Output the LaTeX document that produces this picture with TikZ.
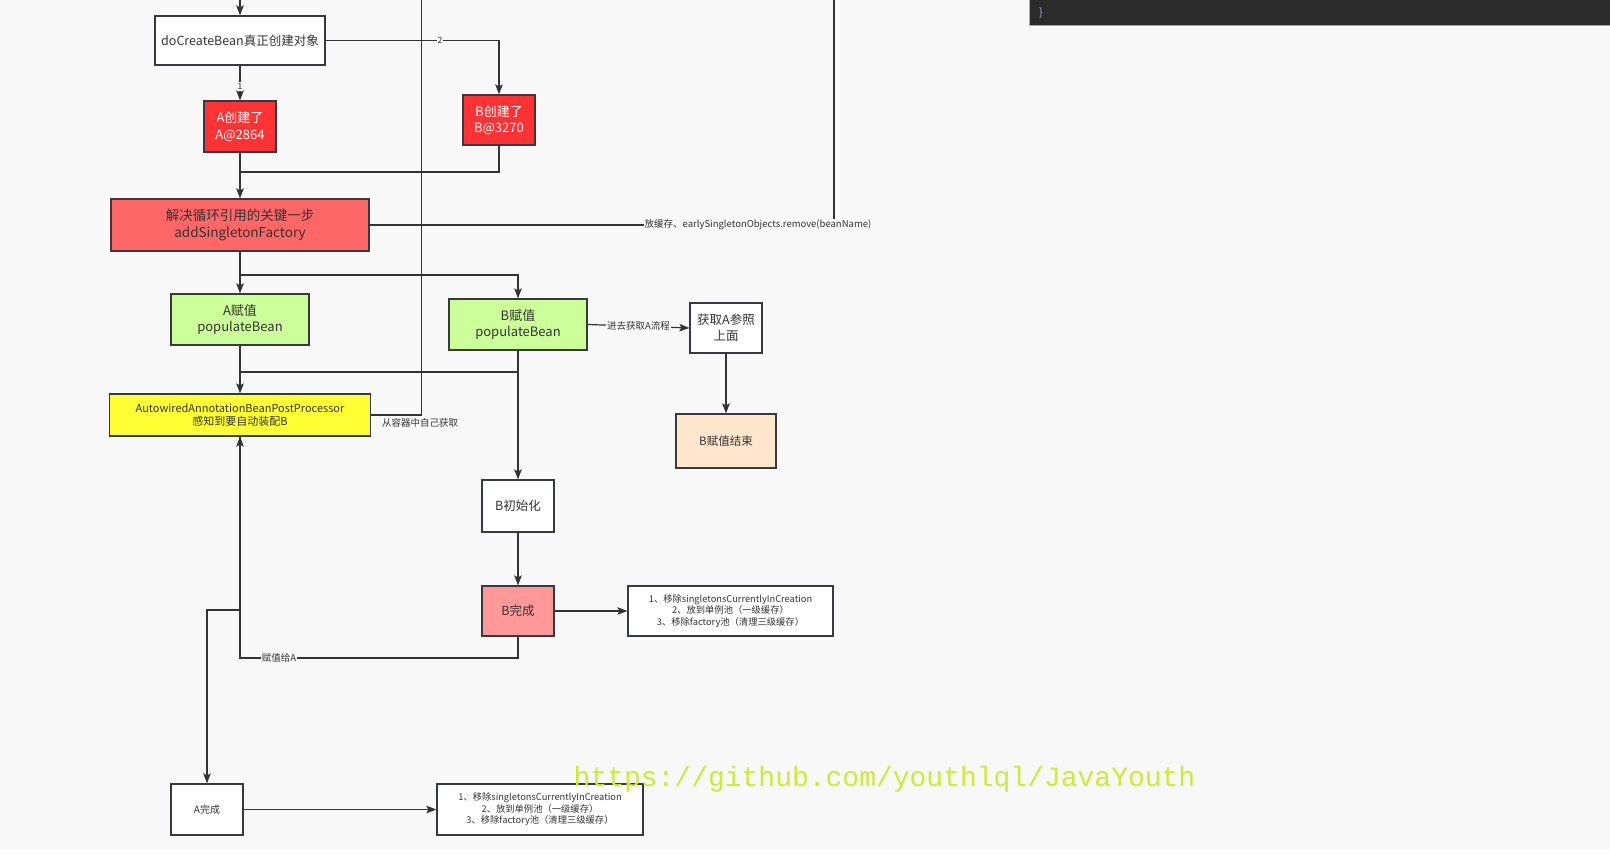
\documentclass[tikz,border=0pt]{standalone}
\usepackage{fontspec}
\setmainfont{Noto Sans CJK SC}
\newfontfamily\monofont{Liberation Mono}
\usetikzlibrary{arrows.meta,positioning,calc}
\definecolor{canvas}{RGB}{248,248,248}
\definecolor{edgegray}{RGB}{54,57,61}
\definecolor{textgray}{RGB}{51,51,51}
\definecolor{hotred}{RGB}{255,51,51}
\definecolor{softred}{RGB}{255,102,102}
\definecolor{pinkred}{RGB}{255,153,153}
\definecolor{limegreen}{RGB}{204,255,153}
\definecolor{brightyellow}{RGB}{255,255,51}
\definecolor{peach}{RGB}{255,230,204}
\definecolor{codebg}{RGB}{43,43,43}
\definecolor{codetext}{RGB}{150,170,195}
\definecolor{markgreen}{RGB}{205,235,55}
\tikzset{
  flowbox/.style={draw=edgegray, fill=#1, line width=1.2pt, align=center,
    text=textgray, inner sep=1pt, font=\fontsize{12.5}{16}\selectfont},
  flowbox/.default=white,
  hotbox/.style={flowbox=hotred, text=white, font=\fontsize{13}{16.5}\selectfont},
  notebox/.style={flowbox=white, font=\fontsize{9.3}{11.6}\selectfont},
  edgelabel/.style={fill=canvas, text=textgray, inner sep=1pt,
    font=\fontsize{9.5}{11}\selectfont},
  flow/.style={line width=1.2pt, draw=textgray},
  arrow/.style={flow, -{Stealth[length=10pt,width=7.5pt,inset=2pt]}}
}

\begin{document}
\begin{tikzpicture}[x=1pt,y=-1pt]
  \useasboundingbox (0,0) rectangle (1610,861);
  \fill[white] (0,0) rectangle (1610,861);
  \fill[canvas] (0,0) rectangle (1610,849);

  % code panel cut off at the top
  \fill[codebg] (1029,-2) rectangle (1612,25);
  \draw[gray!70, line width=0.8pt] (1029,-2) -- (1029,25) -- (1612,25);
  \node[text=codetext, font=\fontsize{11}{12}\selectfont] (codeend) at (1041,13) {\}};

  \node[flowbox, minimum width=170pt, minimum height=49pt] (docreate) at (240,40.5) {doCreateBean真正创建对象};
  \node[hotbox, minimum width=72pt, minimum height=51pt] (acreate) at (240,126.5) {A创建了\\A@2864};
  \node[hotbox, minimum width=72pt, minimum height=50pt] (bcreate) at (499,120) {B创建了\\B@3270};
  \node[flowbox=softred, minimum width=258pt, minimum height=52pt, font=\fontsize{13.5}{16.5}\selectfont] (addfactory) at (240,225) {解决循环引用的关键一步\\addSingletonFactory};
  \node[flowbox=limegreen, minimum width=138pt, minimum height=51pt, font=\fontsize{13}{16.5}\selectfont] (apopulate) at (240,319.5) {A赋值\\populateBean};
  \node[flowbox=limegreen, minimum width=138pt, minimum height=51pt, font=\fontsize{13}{16.5}\selectfont] (bpopulate) at (518,324.5) {B赋值\\populateBean};
  \node[flowbox=brightyellow, minimum width=261pt, minimum height=42pt, font=\fontsize{11}{13}\selectfont] (autowired) at (240,415) {AutowiredAnnotationBeanPostProcessor\\感知到要自动装配B};
  \node[flowbox, minimum width=72pt, minimum height=50pt] (getaref) at (726,328) {获取A参照\\上面};
  \node[flowbox=peach, minimum width=100pt, minimum height=54pt, font=\fontsize{11.5}{14}\selectfont] (bassignend) at (726,441) {B赋值结束};
  \node[flowbox, minimum width=72pt, minimum height=52pt] (binit) at (518,506) {B初始化};
  \node[flowbox=pinkred, minimum width=72pt, minimum height=50pt] (bdone) at (518,611) {B完成};
  \node[notebox, minimum width=205pt, minimum height=50pt] (bnote) at (730.5,611) {1、移除singletonsCurrentlyInCreation\\2、放到单例池（一级缓存）\\3、移除factory池（清理三级缓存）};
  \node[flowbox, minimum width=72pt, minimum height=51pt, font=\fontsize{10}{12}\selectfont] (adone) at (207,809.5) {A完成};
  \node[notebox, minimum width=206pt, minimum height=51pt] (anote) at (540,809.5) {1、移除singletonsCurrentlyInCreation\\2、放到单例池（一级缓存）\\3、移除factory池（清理三级缓存）};

  \coordinate (topin) at (240,-2);
  \coordinate (joinab) at (240,172);
  \coordinate (splitpop) at (240,275);
  \coordinate (joinpop) at (240,372);
  \coordinate (cacheup) at (834,-2);
  \coordinate (selfget) at (421.7,-2);
  \coordinate (aret) at (240,658);
  \coordinate (abranch) at (240,610);

  \draw[arrow] (topin) -- (docreate.north);
  \draw[arrow] (docreate.south) -- node[edgelabel, font=\fontsize{8.5}{10}\selectfont, pos=0.6] {1} (acreate.north);
  \draw[arrow] (docreate.east) -| node[edgelabel, font=\fontsize{8.5}{10}\selectfont, pos=0.33] {2} (bcreate.north);
  \draw[arrow] (acreate.south) -- (addfactory.north);
  \draw[flow] (bcreate.south) |- (joinab);

  \draw[flow] (addfactory.east) -| (cacheup);
  \node[edgelabel] (cachelabel) at (758,225) {放缓存、earlySingletonObjects.remove(beanName)};

  \draw[flow] (autowired.east) -| (selfget);
  \node[edgelabel, fill=none, anchor=north] (selflabel) at (420,417) {从容器中自己获取};

  \draw[arrow] (addfactory.south) -- (apopulate.north);
  \draw[arrow] (splitpop) -| (bpopulate.north);
  \draw[arrow] (apopulate.south) -- (autowired.north);
  \draw[flow] (bpopulate.south) |- (joinpop);
  \draw[arrow] (bpopulate.south) -- (binit.north);
  \draw[arrow] (bpopulate.east) -- node[edgelabel] {进去获取A流程} (getaref.west);
  \draw[arrow] (getaref.south) -- (bassignend.north);
  \draw[arrow] (binit.south) -- (bdone.north);
  \draw[arrow] (bdone.east) -- (bnote.west);

  \draw[arrow] (bdone.south) |- node[edgelabel, pos=0.93] {赋值给A} (aret) -- (autowired.south);
  \draw[arrow] (autowired.south) -- (abranch) -| (adone.north);
  \draw[arrow] (adone.east) -- (anote.west);

  \node[text=markgreen, font=\monofont\fontsize{28}{30}\selectfont] (watermark) at (884.5,779) {https://github.com/youthlql/JavaYouth};
\end{tikzpicture}
\end{document}
